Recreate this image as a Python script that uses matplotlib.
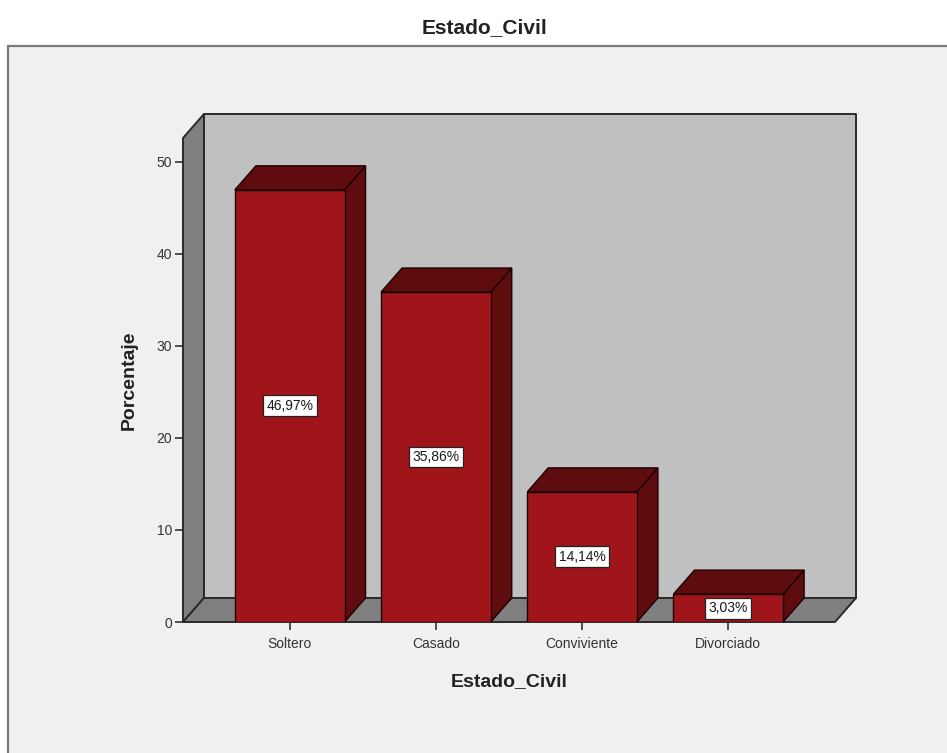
import matplotlib
matplotlib.use("Agg")
import matplotlib.pyplot as plt
from matplotlib.patches import Polygon, Rectangle

categories = ["Soltero", "Casado", "Conviviente", "Divorciado"]
values = [46.97, 35.86, 14.14, 3.03]
labels = ["46,97%", "35,86%", "14,14%", "3,03%"]
yticks = [0, 10, 20, 30, 40, 50]

plt.rcParams['font.family'] = ['Liberation Sans', 'DejaVu Sans']

W, H = 947, 753
fig = plt.figure(figsize=(W / 100, H / 100), dpi=100)
fig.patch.set_facecolor('white')

# outer frame
fig.patches.append(Rectangle((8 / W, -0.1), 1.2, (753 - 46) / H + 0.1,
                             transform=fig.transFigure, facecolor='#f0f0f0',
                             edgecolor='#7a7a7a', lw=1.6, zorder=-10))

ax = fig.add_axes([183 / W, (H - 622) / H, (835 - 183) / W, (622 - 138) / H])
ax.set_zorder(5)
ax.set_facecolor('none')
xmin, xmax = -0.73, 3.73
ymin, ymax = 0, 52.6
ax.set_xlim(xmin, xmax)
ax.set_ylim(ymin, ymax)
for s in ax.spines.values():
    s.set_visible(False)

dx = 21 / (652 / (xmax - xmin))
dy = 24 / (484 / (ymax - ymin))

wall_kw = dict(edgecolor='#2a2a2a', lw=1.4, clip_on=False, joinstyle='round')
# back wall
ax.add_patch(Polygon([(xmin + dx, dy), (xmax + dx, dy), (xmax + dx, ymax + dy), (xmin + dx, ymax + dy)],
                     facecolor='#c0c0c0', zorder=1, **wall_kw))
# left wall
ax.add_patch(Polygon([(xmin, 0), (xmin + dx, dy), (xmin + dx, ymax + dy), (xmin, ymax)],
                     facecolor='#808080', zorder=2, **wall_kw))
# floor
ax.add_patch(Polygon([(xmin, 0), (xmax, 0), (xmax + dx, dy), (xmin + dx, dy)],
                     facecolor='#808080', zorder=2, **wall_kw))

bw = 0.75
front = '#a0151a'
dark = '#5e0c0e'
x = list(range(len(categories)))
for xi, v in zip(x, values):
    l, r = xi - bw / 2, xi + bw / 2
    ax.add_patch(Polygon([(r, 0), (r + dx, dy), (r + dx, v + dy), (r, v)],
                         facecolor=dark, edgecolor='#1a0000', lw=1.0, zorder=3, clip_on=False))
    ax.add_patch(Polygon([(l, v), (r, v), (r + dx, v + dy), (l + dx, v + dy)],
                         facecolor=dark, edgecolor='#1a0000', lw=1.0, zorder=3, clip_on=False))
ax.bar(x, values, width=bw, color=front, edgecolor='#1a0000', lw=1.0, zorder=4)

for xi, v, lab in zip(x, values, labels):
    ax.text(xi, v / 2, lab, ha='center', va='center', fontsize=10, color='#1a1a1a', zorder=6,
            bbox=dict(boxstyle='square,pad=0.25', fc='white', ec='#222222', lw=0.9))

ax.set_xticks(x)
ax.set_xticklabels(categories, fontsize=10, color='#333333')
ax.set_yticks(yticks)
ax.set_yticklabels([str(t) for t in yticks], fontsize=10, color='#333333')
ax.tick_params(axis='both', direction='out', length=6, width=1.2, color='#333333', pad=2)
ax.tick_params(axis='x', pad=5)

ax.set_xlabel("Estado_Civil", fontsize=14, fontweight='bold', color='#222222', labelpad=16)
ax.set_ylabel("Porcentaje", fontsize=14, fontweight='bold', color='#222222', labelpad=13)

fig.text(484 / W, 1 - 28 / H, "Estado_Civil", ha='center', va='center',
         fontsize=15, fontweight='bold', color='#222222')

fig.savefig("out.png", dpi=100, facecolor=fig.get_facecolor())
